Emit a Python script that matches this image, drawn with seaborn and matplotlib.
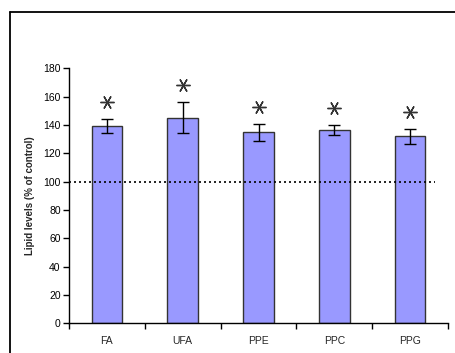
import matplotlib
matplotlib.use("Agg")
import matplotlib.pyplot as plt
from matplotlib.lines import Line2D
import seaborn as sns
import pandas as pd

groups = ["FA", "UFA", "PPE", "PPC", "PPG"]
lipid_levels = [139, 145, 135, 136.5, 132]
sem = [5, 11, 6, 3.7, 5.5]
y_ticks = [0, 20, 40, 60, 80, 100, 120, 140, 160, 180]

sns.set_style("white")
plt.rcParams["font.family"] = ["Liberation Sans", "DejaVu Sans"]

df = pd.DataFrame({"group": groups, "level": lipid_levels})

fig = plt.figure(figsize=(4.55, 3.53), dpi=100)
ax = fig.add_axes([69 / 455, 1 - 323.3 / 353, 379 / 455, 255 / 353])

sns.barplot(data=df, x="group", y="level", ax=ax, color="#9999FF",
            saturation=1, width=0.405, edgecolor="#333333", linewidth=1.0,
            errorbar=None)

ax.errorbar(range(len(groups)), lipid_levels, yerr=sem, fmt="none",
            ecolor="black", elinewidth=1.0, capsize=4, capthick=1.0, zorder=5)

# significance asterisks above each error bar
star_y = [m + e + 12 for m, e in zip(lipid_levels, sem)]
ax.plot(range(len(groups)), star_y, linestyle="none", marker=(6, 2, 90),
        markersize=10, markeredgewidth=1.0, color="#333333", zorder=6)

ax.axhline(100, xmin=0, xmax=0.966, color="black", linestyle=(0, (1.2, 1.8)),
           linewidth=1.2, zorder=6)

ax.set_xlim(-0.5, len(groups) - 0.5)
ax.set_ylim(0, 180)
ax.set_yticks(y_ticks)
ax.set_yticklabels([str(t) for t in y_ticks], fontsize=7.5)

ax.set_xticks(range(len(groups)))
ax.set_xticklabels(groups, fontsize=7.5)
ax.set_xticks([b - 0.5 for b in range(len(groups) + 1)], minor=True)
ax.tick_params(axis="x", which="major", length=0, pad=9)
ax.tick_params(axis="x", which="minor", direction="out", length=4, width=1,
               bottom=True, colors="black")
ax.tick_params(axis="y", direction="out", length=4, width=1, pad=2,
               left=True, colors="black")

ax.set_xlabel("")
ax.set_ylabel("Lipid levels (% of control)", fontsize=7, fontweight="bold",
              labelpad=6)

for side in ("top", "right"):
    ax.spines[side].set_visible(False)
for side in ("left", "bottom"):
    ax.spines[side].set_color("black")
    ax.spines[side].set_linewidth(1.0)

# outer frame
fig.add_artist(Line2D([9.5 / 455, 9.5 / 455], [0, 1 - 12 / 353],
                      color="black", linewidth=1.3))
fig.add_artist(Line2D([9.5 / 455, 1], [1 - 12 / 353, 1 - 12 / 353],
                      color="black", linewidth=1.3))

fig.savefig("out.png", dpi=100)
